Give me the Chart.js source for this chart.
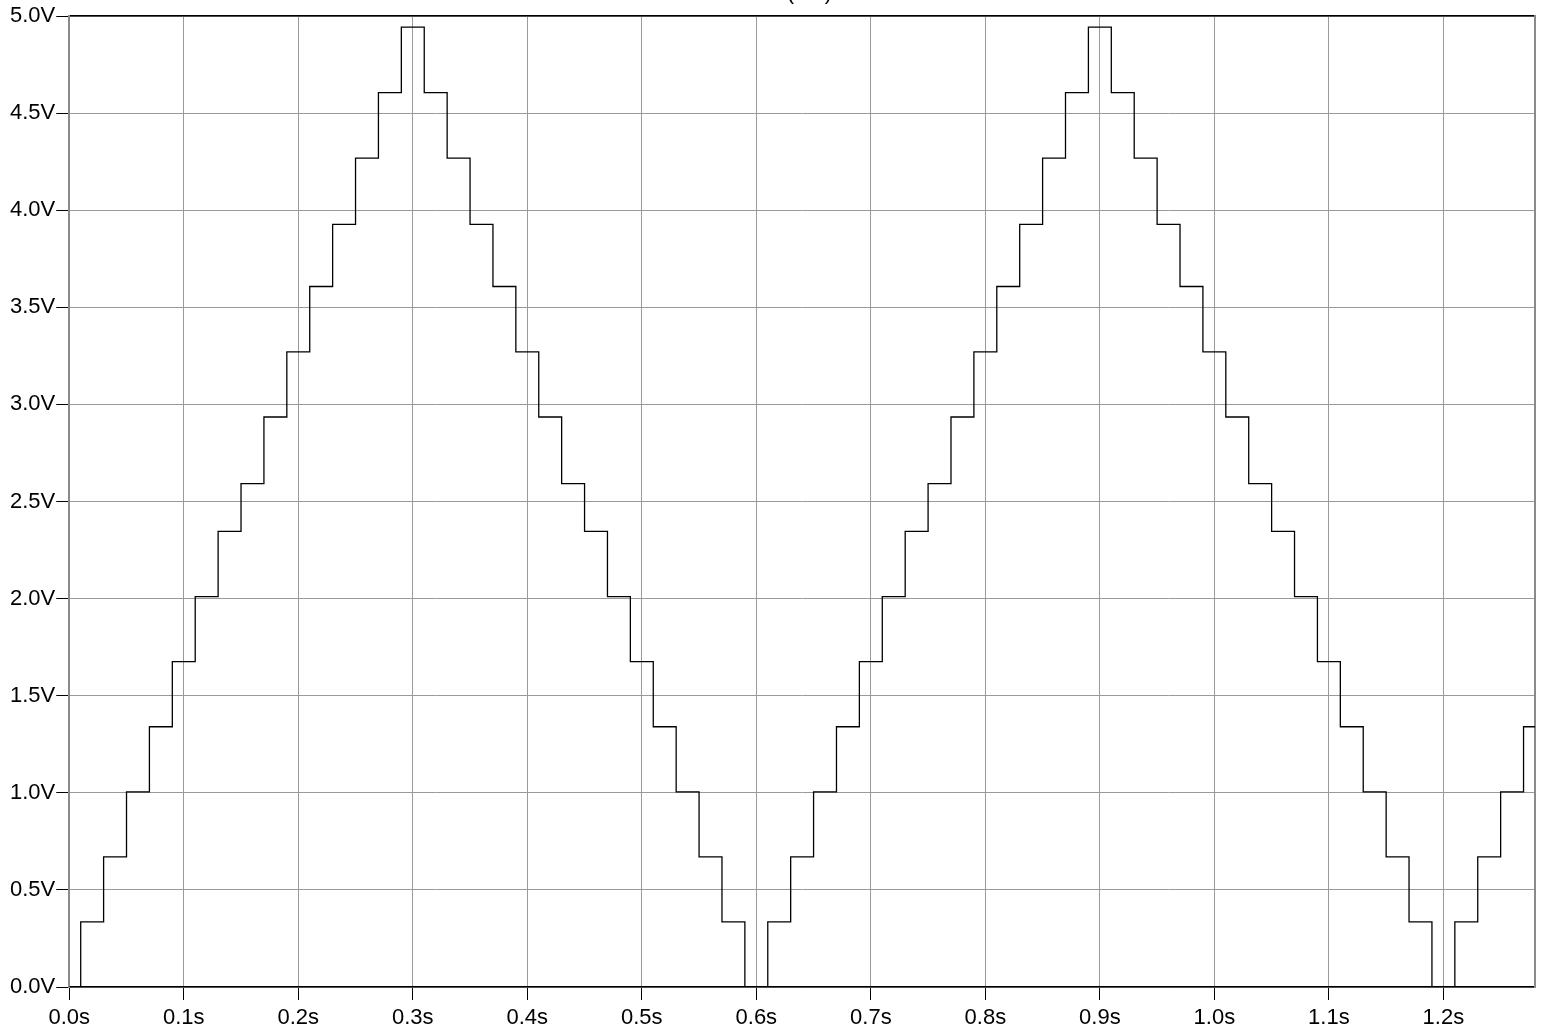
<!DOCTYPE html>
<html>
<head>
<meta charset="utf-8">
<script src="https://cdn.jsdelivr.net/npm/chart.js@4/dist/chart.umd.min.js"></script>
<style>
  html, body { margin: 0; padding: 0; background: #ffffff; }
  #wrap { position: relative; width: 1541px; height: 1027px; }
</style>
</head>
<body>
<div id="wrap"><canvas id="c" width="1541" height="1027"></canvas></div>
<script>
// ---- data ----
const titleText = "V(out)";
const times = [0, 0.01, 0.03, 0.05, 0.07, 0.09, 0.11, 0.13, 0.15, 0.17, 0.19, 0.21, 0.23, 0.25, 0.27, 0.29,
  0.31, 0.33, 0.35, 0.37, 0.39, 0.41, 0.43, 0.45, 0.47, 0.49, 0.51, 0.53, 0.55, 0.57, 0.59,
  0.61, 0.63, 0.65, 0.67, 0.69, 0.71, 0.73, 0.75, 0.77, 0.79, 0.81, 0.83, 0.85, 0.87, 0.89,
  0.91, 0.93, 0.95, 0.97, 0.99, 1.01, 1.03, 1.05, 1.07, 1.09, 1.11, 1.13, 1.15, 1.17, 1.19,
  1.21, 1.23, 1.25, 1.27, 1.28];
const volts = [0, 0.335, 0.67, 1.005, 1.34, 1.675, 2.01, 2.346, 2.592, 2.935, 3.27, 3.607, 3.927, 4.268, 4.605, 4.943,
  4.605, 4.268, 3.927, 3.607, 3.27, 2.935, 2.592, 2.346, 2.01, 1.675, 1.34, 1.005, 0.67, 0.335, 0,
  0.335, 0.67, 1.005, 1.34, 1.675, 2.01, 2.346, 2.592, 2.935, 3.27, 3.607, 3.927, 4.268, 4.605, 4.943,
  4.605, 4.268, 3.927, 3.607, 3.27, 2.935, 2.592, 2.346, 2.01, 1.675, 1.34, 1.005, 0.67, 0.335, 0,
  0.335, 0.67, 1.005, 1.34, 1.34];
const xTicks = [0, 0.1, 0.2, 0.3, 0.4, 0.5, 0.6, 0.7, 0.8, 0.9, 1.0, 1.1, 1.2];
const yTicks = [0, 0.5, 1.0, 1.5, 2.0, 2.5, 3.0, 3.5, 4.0, 4.5, 5.0];
const xMin = 0, xMax = 1.28, yMin = 0, yMax = 5;

const FONT = { family: "'Liberation Sans', Arial, sans-serif", size: 22, lineHeight: 1.0 };

const points = times.map((t, i) => ({ x: t, y: volts[i] }));

const titlePlugin = {
  id: 'clippedTitle',
  afterDraw(chart) {
    const ctx = chart.ctx;
    const a = chart.chartArea;
    ctx.save();
    ctx.font = FONT.size + "px " + FONT.family;
    ctx.fillStyle = '#000';
    ctx.textAlign = 'center';
    ctx.textBaseline = 'alphabetic';
    ctx.fillText(titleText, (a.left + a.right) / 2, -1);
    ctx.restore();
  }
};

new Chart(document.getElementById('c'), {
  type: 'line',
  data: {
    datasets: [{
      data: points,
      stepped: 'before',
      borderColor: '#000000',
      borderWidth: 1.3,
      pointRadius: 0,
      fill: false,
      tension: 0
    }]
  },
  options: {
    responsive: false,
    animation: false,
    devicePixelRatio: 1,
    layout: { padding: { left: 9, right: 6, top: 16, bottom: -9 } },
    plugins: { legend: { display: false }, tooltip: { enabled: false }, title: { display: false } },
    scales: {
      x: {
        type: 'linear', position: 'bottom', min: xMin, max: xMax,
        afterBuildTicks: s => { s.ticks = xTicks.map(v => ({ value: v })); },
        ticks: { color: '#000', font: FONT, padding: 7, maxRotation: 0, autoSkip: false,
                 callback: v => v.toFixed(1) + 's' },
        grid: { color: '#9a9a9a', lineWidth: 1, tickColor: '#000', tickLength: 13, drawTicks: true },
        border: { color: '#000', width: 1.5 }
      },
      xTop: {
        type: 'linear', position: 'top', min: xMin, max: xMax,
        ticks: { display: false }, grid: { display: false, drawTicks: false },
        border: { color: '#000', width: 1.5 }
      },
      y: {
        type: 'linear', position: 'left', min: yMin, max: yMax,
        afterBuildTicks: s => { s.ticks = yTicks.map(v => ({ value: v })); },
        ticks: { color: '#000', font: FONT, padding: 1, autoSkip: false,
                 callback: v => v.toFixed(1) + 'V' },
        grid: { color: '#9a9a9a', lineWidth: 1, tickColor: '#000', tickLength: 13, drawTicks: true },
        border: { color: '#8a8a8a', width: 2 }
      },
      yRight: {
        type: 'linear', position: 'right', min: yMin, max: yMax,
        ticks: { display: false }, grid: { display: false, drawTicks: false },
        border: { color: '#8a8a8a', width: 2 }
      }
    }
  },
  plugins: [titlePlugin]
});
</script>
</body>
</html>
